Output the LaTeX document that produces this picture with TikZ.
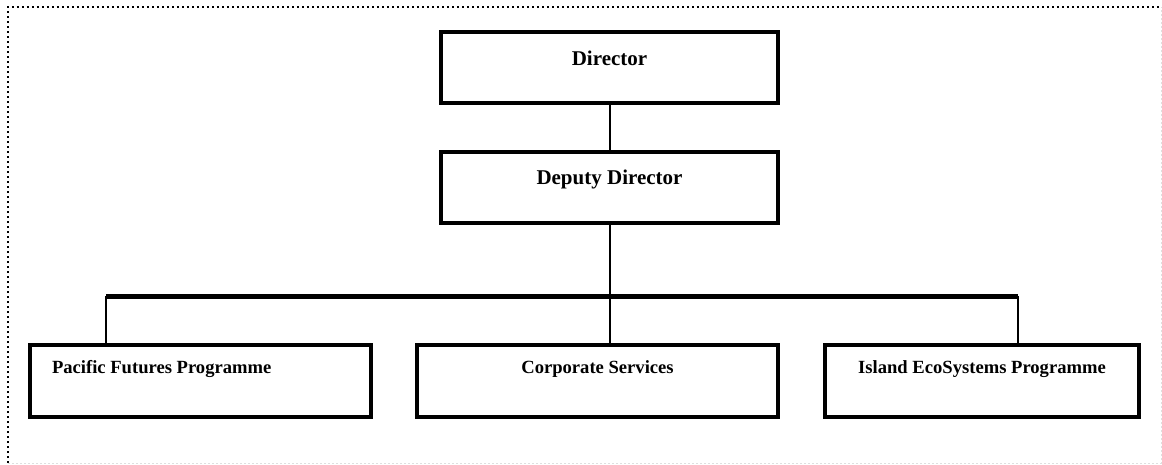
\documentclass[tikz,border=0pt]{standalone}
\usepackage{fontspec}
\setmainfont{Liberation Serif}
\usepackage{tikz}
\usetikzlibrary{positioning, calc}

\begin{document}
\begin{tikzpicture}[x=1pt, y=-1pt]
    % Styles
    \tikzstyle{topbox} = [rectangle, draw=black, line width=4pt, inner sep=0pt, minimum width=337pt, text height=33pt, text depth=38pt, text centered, font=\fontsize{21}{24}\selectfont\bfseries]
    \tikzstyle{unitbox} = [rectangle, draw=black, line width=4pt, inner sep=0pt, text height=29pt, text depth=43pt, text centered, font=\fontsize{18.6}{22}\selectfont\bfseries]
    \tikzstyle{link} = [draw=black, line width=2pt]
    \tikzstyle{bar} = [draw=black, line width=5pt]

    \useasboundingbox (0,0) rectangle (1162,465);

    % Frame
    \draw[gray!25, line width=1pt, dash pattern=on 2pt off 2pt] (8,463) -- (1161,463) -- (1161,7);
    \draw[black, line width=2.2pt, dash pattern=on 2.2pt off 2.8pt] (8,463) -- (8,7) -- (1161,7);

    % Nodes
    \node (director) [topbox] at (609.5,68) {Director};
    \node (deputy) [topbox] at (609.5,187.5) {Deputy Director};

    \node (pacific) [unitbox, minimum width=341pt] at (200.5,380.5) {\makebox[297pt][l]{Pacific Futures Programme}};
    \node (corporate) [unitbox, minimum width=361pt] at (597.5,380.5) {Corporate Services};
    \node (island) [unitbox, minimum width=314pt] at (982,380.5) {Island EcoSystems Programme};

    \coordinate (barL) at (106,296);
    \coordinate (barR) at (1018,296);

    % Connections
    \draw[link] (director) -- (deputy);
    \draw[link] (deputy) -- (deputy |- corporate.north);
    \draw[bar] (barL) -- (barR);
    \draw[link] (barL) -- (barL |- pacific.north);
    \draw[link] (barR) -- (barR |- island.north);
\end{tikzpicture}
\end{document}
